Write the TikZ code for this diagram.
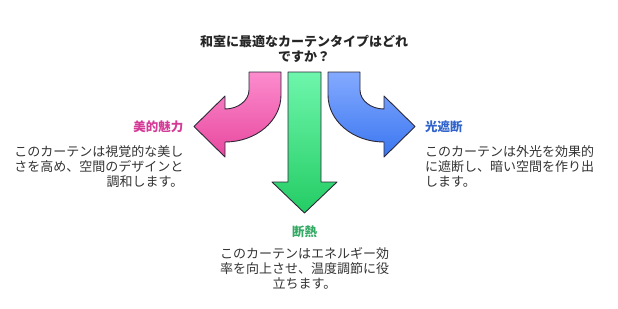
\documentclass[tikz,border=0pt]{standalone}
\usepackage{fontspec}
\setmainfont{Noto Sans CJK JP}
\begin{document}
\begin{tikzpicture}[x=1pt,y=-1pt,
  arrowshape/.style={draw=edgeC, line width=0.9pt, line join=round},
  titletext/.style={font=\fontsize{13}{15}\selectfont\bfseries, align=center, text=black!85, inner sep=0pt},
  headtext/.style={font=\fontsize{12.5}{15}\selectfont\bfseries, inner sep=0pt},
  bodytext/.style={font=\fontsize{13}{14.8}\selectfont, text=black!80, inner sep=0pt}]
\definecolor{edgeC}{RGB}{44,40,56}
\definecolor{pinkA}{RGB}{252,140,205}
\definecolor{pinkB}{RGB}{232,72,158}
\definecolor{greenA}{RGB}{110,246,172}
\definecolor{greenB}{RGB}{36,204,100}
\definecolor{blueA}{RGB}{132,170,255}
\definecolor{blueB}{RGB}{58,118,240}
\definecolor{pinkT}{RGB}{212,58,150}
\definecolor{greenT}{RGB}{52,170,100}
\definecolor{blueT}{RGB}{48,100,204}
\useasboundingbox (0,0) rectangle (618,308);
% pink arrow (left)
\path[arrowshape, top color=pinkA, bottom color=pinkB]
  (249,72) -- (281,72) -- (281,95)
  .. controls (281,121) and (256,142) .. (225,142)
  -- (225,157) -- (194,126.5) -- (225,96) -- (225,109)
  .. controls (238,109) and (249,100.5) .. (249,90) -- cycle;
% green arrow (down)
\path[arrowshape, top color=greenA, bottom color=greenB]
  (288,72) -- (321,72) -- (321,182) -- (337,182) -- (304.5,213)
  -- (272,182) -- (288,182) -- cycle;
% blue arrow (right)
\path[arrowshape, top color=blueA, bottom color=blueB]
  (360,72) -- (328,72) -- (328,95)
  .. controls (328,121) and (353,142) .. (384,142)
  -- (384,157) -- (415,126.5) -- (384,96) -- (384,109)
  .. controls (371,109) and (360,100.5) .. (360,90) -- cycle;
% texts
\node[titletext] (title) at (304,48.5) {和室に最適なカーテンタイプはどれ\\ですか？};
\node[headtext, text=pinkT, anchor=east] (hp) at (183.5,127) {美的魅力};
\node[bodytext, align=right, anchor=north east] (bp) at (183.5,145.5) {このカーテンは視覚的な美し\\さを高め、空間のデザインと\\調和します。};
\node[headtext, text=blueT, anchor=west] (hb) at (425,127) {光遮断};
\node[bodytext, align=left, anchor=north west] (bb) at (425,145.5) {このカーテンは外光を効果的\\に遮断し、暗い空間を作り出\\します。};
\node[headtext, text=greenT] (hg) at (304.5,231.5) {断熱};
\node[bodytext, align=center, anchor=north] (bg) at (304.5,247.5) {このカーテンはエネルギー効\\率を向上させ、温度調節に役\\立ちます。};
\end{tikzpicture}
\end{document}
